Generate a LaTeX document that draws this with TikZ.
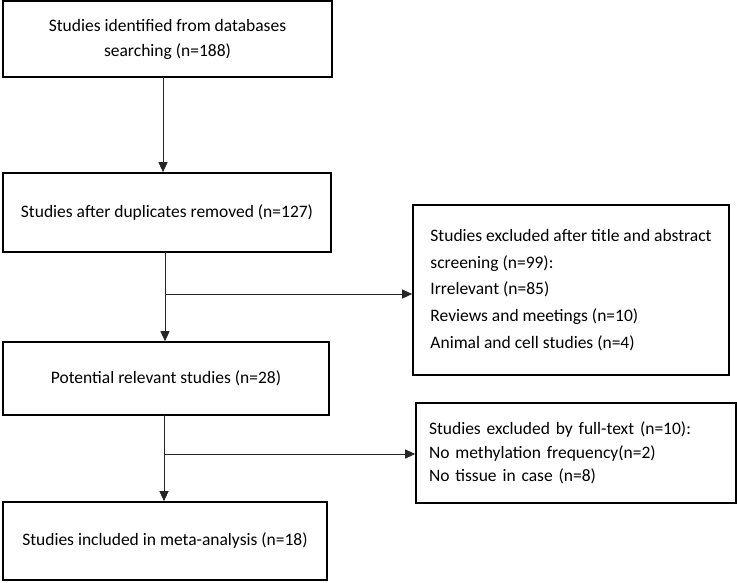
\documentclass[tikz,border=0pt]{standalone}
\usepackage{fontspec}
\setmainfont{Carlito}
\usetikzlibrary{arrows.meta}
\begin{document}
\begin{tikzpicture}[x=1pt,y=-1pt,
  box/.style={draw=black, line width=1.6pt, rectangle, inner sep=0pt, font=\fontsize{17.5}{25}\selectfont},
  conn/.style={draw=black!85, line width=1pt},
  arr/.style={conn, -{Triangle[length=10pt,width=9pt]}}]
\useasboundingbox (0,0) rectangle (737,582);
\node[box, minimum width=329pt, minimum height=76pt, align=center] (b1) at (167.5,39) {Studies identified from databases\\searching (n=188)};
\node[box, minimum width=328pt, minimum height=79pt] (b2) at (167,212.5) {Studies after duplicates removed (n=127)};
\node[box, minimum width=316pt, minimum height=170pt, align=left, font=\fontsize{17.5}{26.7}\selectfont] (b3) at (571,290) {Studies excluded after title and abstract\\screening (n=99):\\Irrelevant (n=85)\\Reviews and meetings (n=10)\\Animal and cell studies (n=4)};
\node[box, minimum width=326pt, minimum height=73pt] (b4) at (166,378.5) {Potential relevant studies (n=28)};
\node[box, minimum width=320pt, minimum height=100pt, text width=294pt, align=left, font=\fontsize{17.5}{23.7}\selectfont] (b5) at (576,453) {Studies excluded by full-text (n=10):\\No methylation frequency(n=2)\\No tissue in case (n=8)};
\node[box, minimum width=324pt, minimum height=78pt] (b6) at (165,541) {Studies included in meta-analysis (n=18)};
\coordinate (t1) at (163,77);
\draw[arr] (t1) -- (t1 |- b2.north);
\coordinate (t2) at (165,252);
\coordinate (j2) at (165,294);
\draw[arr] (t2) -- (t2 |- b4.north);
\draw[arr] (j2) -- (b3.west |- j2);
\coordinate (t3) at (164,415);
\coordinate (j3) at (164,454);
\draw[arr] (t3) -- (t3 |- b6.north);
\draw[arr] (j3) -- (b5.west |- j3);
\end{tikzpicture}
\end{document}
